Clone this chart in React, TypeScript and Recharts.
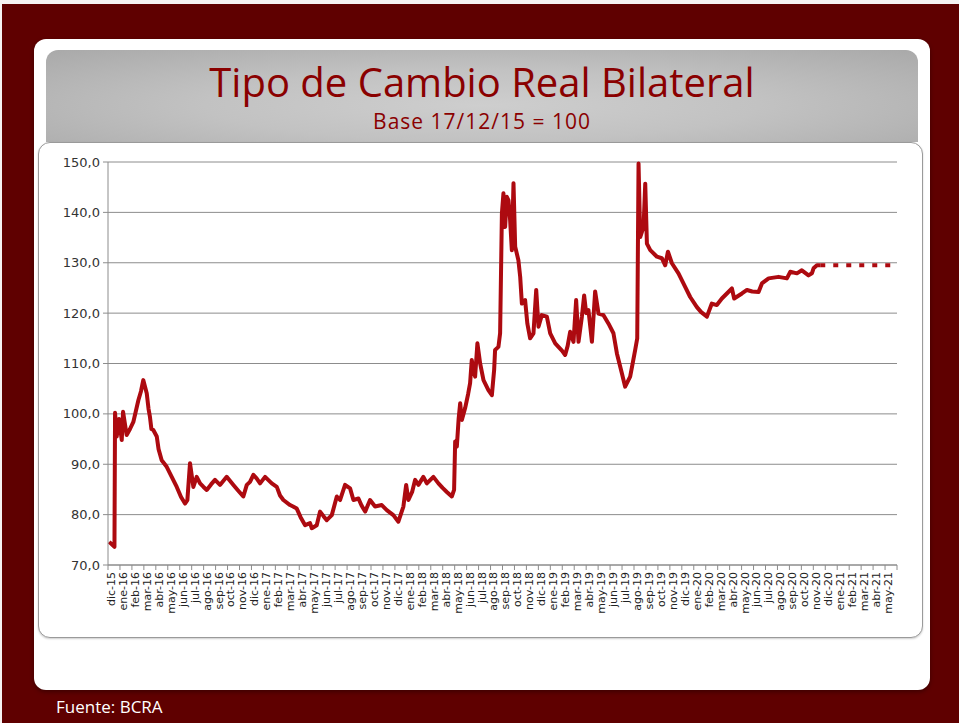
import { CartesianGrid, Line, LineChart, XAxis, YAxis } from "recharts";

// Etiquetas mensuales del eje X (una por mes, dic-15 a may-21)
const meses = [
  "dic-15",
  "ene-16", "feb-16", "mar-16", "abr-16", "may-16", "jun-16", "jul-16", "ago-16", "sep-16", "oct-16", "nov-16", "dic-16",
  "ene-17", "feb-17", "mar-17", "abr-17", "may-17", "jun-17", "jul-17", "ago-17", "sep-17", "oct-17", "nov-17", "dic-17",
  "ene-18", "feb-18", "mar-18", "abr-18", "may-18", "jun-18", "jul-18", "ago-18", "sep-18", "oct-18", "nov-18", "dic-18",
  "ene-19", "feb-19", "mar-19", "abr-19", "may-19", "jun-19", "jul-19", "ago-19", "sep-19", "oct-19", "nov-19", "dic-19",
  "ene-20", "feb-20", "mar-20", "abr-20", "may-20", "jun-20", "jul-20", "ago-20", "sep-20", "oct-20", "nov-20", "dic-20",
  "ene-21", "feb-21", "mar-21", "abr-21", "may-21",
];

// posicion = meses transcurridos desde el 1/12/15 (fraccion = dias del mes)
const posicion = [
  0.1, 0.54, 0.59, 0.73, 0.92, 1.15, 1.26, 1.56, 1.84, 2.12,
  2.54, 2.76, 2.95, 3.24, 3.39, 3.51, 3.63, 3.79, 4.08, 4.23,
  4.49, 4.91, 5.33, 5.75, 6.11, 6.44, 6.64, 6.86, 7.14, 7.42,
  7.7, 7.99, 8.26, 8.62, 8.95, 9.37, 9.93, 10.49, 10.88, 11.32,
  11.61, 11.88, 12.16, 12.43, 12.72, 13.14, 13.7, 14.12, 14.39, 14.67,
  15.23, 15.48, 15.79, 16.11, 16.49, 16.9, 17.05, 17.46, 17.74, 18.03,
  18.3, 18.72, 19.14, 19.41, 19.83, 20.25, 20.53, 20.95, 21.21, 21.51,
  21.92, 22.34, 22.9, 23.32, 23.87, 24.29, 24.71, 24.94, 25.13, 25.44,
  25.69, 25.97, 26.38, 26.67, 27.22, 27.64, 27.99, 28.34, 28.76, 28.95,
  29.04, 29.18, 29.33, 29.46, 29.6, 29.87, 30.13, 30.29, 30.43, 30.59,
  30.71, 30.9, 31.13, 31.41, 31.82, 32.11, 32.3, 32.38, 32.66, 32.8,
  32.95, 33.08, 33.22, 33.36, 33.5, 33.64, 33.78, 33.92, 34.06, 34.33,
  34.48, 34.62, 34.89, 35.08, 35.31, 35.59, 35.82, 36.01, 36.29, 36.71,
  36.99, 37.41, 37.68, 37.99, 38.24, 38.45, 38.66, 38.94, 39.16, 39.36,
  39.64, 39.83, 40.0, 40.19, 40.48, 40.75, 41.03, 41.45, 41.87, 42.28,
  42.57, 42.99, 43.26, 43.68, 44.1, 44.27, 44.38, 44.52, 44.8, 44.94,
  45.08, 45.36, 45.92, 46.33, 46.61, 46.84, 47.17, 47.72, 48.28, 48.7,
  49.26, 49.62, 50.1, 50.51, 50.93, 51.35, 51.77, 52.19, 52.38, 53.03,
  53.45, 53.89, 54.42, 54.7, 55.26, 56.09, 56.79, 57.07, 57.63, 58.04,
  58.6, 58.88, 59.02, 59.3, 59.58,
];

// Tipo de cambio real bilateral, base 17/12/15 = 100
const tcrb = [
  74.6, 73.6, 100.2, 95.5, 99.0, 94.8, 100.4, 95.8, 97.0, 98.4,
  102.7, 104.5, 106.7, 104.1, 101.0, 99.4, 97.0, 96.8, 95.5, 93.0,
  90.8, 89.5, 87.5, 85.5, 83.5, 82.2, 82.9, 90.2, 85.5, 87.5,
  86.2, 85.5, 84.9, 86.0, 86.9, 85.9, 87.5, 85.9, 84.8, 83.6,
  85.9, 86.5, 87.9, 87.2, 86.2, 87.5, 86.2, 85.5, 83.8, 82.9,
  81.9, 81.6, 81.2, 79.5, 77.9, 78.3, 77.3, 77.9, 80.6, 79.7,
  78.9, 79.9, 83.6, 82.9, 85.9, 85.2, 82.9, 83.2, 81.8, 80.6,
  82.9, 81.6, 81.9, 80.9, 79.9, 78.6, 81.6, 85.9, 82.9, 84.5,
  86.9, 85.9, 87.5, 86.2, 87.5, 86.2, 85.3, 84.5, 83.6, 84.9,
  94.5, 93.5, 99.0, 102.1, 98.8, 101.1, 104.0, 106.1, 110.7, 108.5,
  107.4, 114.0, 110.0, 106.7, 104.7, 103.7, 108.7, 112.7, 113.3, 116.0,
  139.8, 143.8, 137.1, 143.1, 142.4, 138.4, 132.5, 145.8, 133.2, 130.5,
  127.2, 121.9, 122.6, 117.9, 115.0, 116.0, 124.6, 117.3, 119.6, 119.3,
  116.0, 114.0, 113.3, 112.5, 111.7, 113.5, 116.3, 114.3, 122.6, 114.3,
  119.3, 123.5, 120.0, 120.6, 114.3, 124.3, 119.9, 119.6, 117.9, 116.0,
  112.0, 108.0, 105.4, 107.4, 112.7, 115.0, 149.7, 135.1, 137.1, 145.7,
  133.8, 132.5, 131.2, 130.9, 129.5, 132.2, 129.9, 127.9, 125.2, 123.2,
  121.2, 120.2, 119.3, 121.9, 121.6, 122.9, 123.9, 124.9, 122.9, 123.9,
  124.6, 124.3, 124.2, 125.9, 126.9, 127.2, 126.9, 128.2, 127.9, 128.5,
  127.5, 127.9, 128.9, 129.5, 129.5,
];

// Proyeccion (linea punteada) hasta may-21
const proyPosicion = [59.58, 66];
const proyValor = [129.5, 129.5];

const yTicks = [70, 80, 90, 100, 110, 120, 130, 140, 150];

const serie = posicion.map((t, i) => ({ t, v: tcrb[i] }));
const proyeccion = proyPosicion.map((t, i) => ({ t, p: proyValor[i] }));
// marcas en los limites de cada mes (enteros) y etiquetas cerca del inicio (x,25)
const ticksX = [
  ...meses.map((_, i) => i),
  meses.length,
  ...meses.map((_, i) => i + 0.25),
];

const ROJO = "#ad0a10";
const GRIS = "#8c8c8c";
const AXIS_FONT = "'DejaVu Sans', Verdana, sans-serif";

function TickMes({ x, y, payload }: any) {
  const v = payload.value as number;
  if (Number.isInteger(v)) {
    return <line x1={x} x2={x} y1={y} y2={y + 5} stroke={GRIS} />;
  }
  const ty = y + 7;
  return (
    <text
      x={x}
      y={ty}
      dy="0.36em"
      transform={`rotate(-90, ${x}, ${ty})`}
      textAnchor="end"
      fontSize={11}
      fontFamily={AXIS_FONT}
      fill="#222"
    >
      {meses[Math.floor(v)]}
    </text>
  );
}

function Grafico() {
  return (
    <LineChart width={885} height={496} margin={{ top: 20, right: 26, left: 10, bottom: 0 }}>
      <CartesianGrid stroke={GRIS} vertical={false} />
      <XAxis
        type="number"
        dataKey="t"
        domain={[0, 66]}
        ticks={ticksX}
        interval={0}
        height={73}
        stroke={GRIS}
        tickLine={false}
        tickSize={0}
        tickMargin={0}
        tick={<TickMes />}
      />
      <YAxis
        type="number"
        domain={[70, 150]}
        ticks={yTicks}
        interval={0}
        width={60}
        stroke={GRIS}
        tickSize={5}
        tickMargin={3}
        tick={{ fill: "#333", fontSize: 13, fontFamily: AXIS_FONT }}
        tickFormatter={(v: number) => v.toFixed(1).replace(".", ",")}
      />
      <Line
        data={serie}
        dataKey="v"
        type="linear"
        stroke={ROJO}
        strokeWidth={4}
        strokeLinejoin="round"
        dot={false}
        isAnimationActive={false}
      />
      <Line
        data={proyeccion}
        dataKey="p"
        type="linear"
        stroke={ROJO}
        strokeWidth={4}
        strokeDasharray="5 8"
        dot={false}
        isAnimationActive={false}
      />
    </LineChart>
  );
}

export default function App() {
  return (
    <div style={{ position: "absolute", left: 0, top: 0, width: 959, height: 723, background: "#f6f2f2", overflow: "hidden" }}>
      <div style={{ position: "absolute", left: 2, top: 4, right: 0, bottom: 0, background: "#5f0000" }} />
      {/* panel blanco */}
      <div
        style={{
          position: "absolute",
          left: 34,
          top: 39,
          width: 896,
          height: 651,
          background: "#fff",
          borderRadius: 12,
          boxShadow: "0 2px 4px rgba(0,0,0,0.35)",
        }}
      />
      {/* cabecera gris */}
      <div
        style={{
          position: "absolute",
          left: 46,
          top: 50,
          width: 872,
          height: 92,
          borderRadius: "12px 12px 0 0",
          background: "radial-gradient(ellipse at 50% 60%, #cecece 0%, #c2c2c2 45%, #a9a9a9 100%)",
        }}
      />
      <div
        style={{
          position: "absolute",
          left: 46,
          width: 872,
          top: 62,
          textAlign: "center",
          fontFamily: "'Open Sans', sans-serif",
          fontSize: 40,
          lineHeight: "40px",
          color: "#8a0000",
        }}
      >
        Tipo de Cambio Real Bilateral
      </div>
      <div
        style={{
          position: "absolute",
          left: 46,
          width: 872,
          top: 111,
          textAlign: "center",
          fontFamily: "'Open Sans', sans-serif",
          fontSize: 21,
          lineHeight: "21px",
          letterSpacing: 1,
          color: "#8a0000",
        }}
      >
        Base 17/12/15 = 100
      </div>
      {/* marco del grafico */}
      <div
        style={{
          position: "absolute",
          left: 38,
          top: 142,
          width: 885,
          height: 496,
          boxSizing: "border-box",
          background: "#fff",
          border: "1px solid #9a9a9a",
          borderRadius: 12,
          boxShadow: "0 1px 2px rgba(0,0,0,0.2)",
        }}
      />
      <div style={{ position: "absolute", left: 38, top: 142 }}>
        <Grafico />
      </div>
      <div
        style={{
          position: "absolute",
          left: 56,
          top: 697,
          fontFamily: "'Open Sans', sans-serif",
          fontSize: 17,
          lineHeight: "20px",
          color: "#fff",
        }}
      >
        Fuente: BCRA
      </div>
    </div>
  );
}
